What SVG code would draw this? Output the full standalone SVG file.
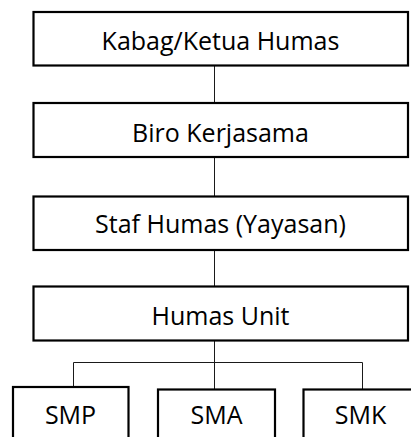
<svg xmlns="http://www.w3.org/2000/svg" width="411" height="437" viewBox="0 0 411 437">
  <style>
    .box { fill: #ffffff; stroke: #000000; stroke-width: 2.2; }
    .label { font-family: "Open Sans", "Liberation Sans", sans-serif; font-size: 25px; fill: #000000; text-anchor: middle; }
    .link { fill: none; stroke: #1a1a1a; stroke-width: 1; }
  </style>
  <rect width="411" height="437" fill="#ffffff"/>

  <!-- connectors -->
  <g id="connectors">
    <path class="link" d="M214.5 66 V102"/>
    <path class="link" d="M214.5 157 V196"/>
    <path class="link" d="M214.5 250 V286"/>
    <path class="link" d="M214.5 341 V389"/>
    <path class="link" d="M73.5 387 V362.5 H362.5 V389"/>
  </g>

  <g id="kabag">
    <rect class="box" x="33.5" y="12" width="374.5" height="53.5"/>
    <text class="label" x="220.5" y="50">Kabag/Ketua Humas</text>
  </g>
  <g id="biro">
    <rect class="box" x="33.5" y="103" width="374.5" height="54"/>
    <text class="label" x="220.5" y="141.5">Biro Kerjasama</text>
  </g>
  <g id="staf">
    <rect class="box" x="33.5" y="196.5" width="374.5" height="53.5"/>
    <text class="label" x="220.5" y="233">Staf Humas (Yayasan)</text>
  </g>
  <g id="unit">
    <rect class="box" x="33.5" y="286.5" width="374.5" height="54"/>
    <text class="label" x="220.5" y="325">Humas Unit</text>
  </g>
  <g id="smp">
    <rect class="box" x="13" y="387" width="115.5" height="60"/>
    <text class="label" x="70.5" y="424">SMP</text>
  </g>
  <g id="sma">
    <rect class="box" x="158" y="389.5" width="117" height="60"/>
    <text class="label" x="216.5" y="424">SMA</text>
  </g>
  <g id="smk">
    <rect class="box" x="303.5" y="389.5" width="117" height="60"/>
    <text class="label" x="360.5" y="424">SMK</text>
  </g>
</svg>
